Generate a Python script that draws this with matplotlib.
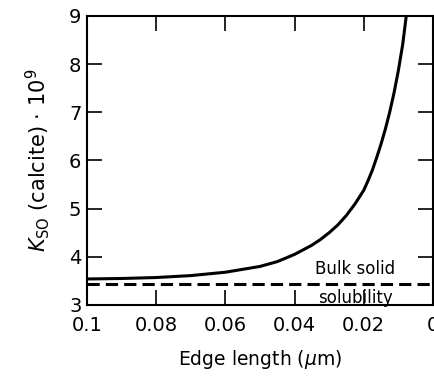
import matplotlib
matplotlib.use('Agg')
import matplotlib.pyplot as plt

# curve: edge length (um) vs Kso * 1e9
edge_length = [0.1, 0.09, 0.08, 0.07, 0.06, 0.05, 0.045, 0.04, 0.035,
               0.0325, 0.03, 0.0275, 0.025, 0.0225, 0.02, 0.01875,
               0.0175, 0.01625, 0.015, 0.01375, 0.0125, 0.01125, 0.01,
               0.00875, 0.0077]
kso = [3.54, 3.55, 3.57, 3.61, 3.68, 3.8, 3.9, 4.05, 4.24,
       4.36, 4.5, 4.66, 4.86, 5.1, 5.38, 5.58,
       5.8, 6.06, 6.34, 6.65, 7.0, 7.4, 7.86,
       8.4, 9.0]
bulk_kso = 3.44

xticks = [0.1, 0.08, 0.06, 0.04, 0.02, 0]
xticklabels = ['0.1', '0.08', '0.06', '0.04', '0.02', '0']
yticks = [3, 4, 5, 6, 7, 8, 9]

fig = plt.figure(figsize=(4.34, 3.77), dpi=100)
ax = fig.add_axes([0.2005, 0.191, 0.797, 0.767])

ax.plot(edge_length, kso, color='black', lw=2.2, solid_capstyle='butt')
ax.plot([0.1, 0], [bulk_kso, bulk_kso], color='black', lw=2.2,
        dashes=(4, 2))

ax.set_xlim(0.1, 0)
ax.set_ylim(3, 9)
ax.set_xticks(xticks)
ax.set_xticklabels(xticklabels)
ax.set_yticks(yticks)

ax.tick_params(direction='in', length=11, width=1.2, labelsize=14,
               top=True, right=True, colors='black')
ax.tick_params(axis='x', pad=8)
ax.tick_params(axis='y', pad=4)
for s in ax.spines.values():
    s.set_linewidth(1.5)

ax.text(0.0225, 3.55, 'Bulk solid', ha='center', va='bottom', fontsize=12)
ax.text(0.0225, 3.34, 'solubility', ha='center', va='top', fontsize=12)

ax.set_xlabel(r'Edge length ($\mu$m)', fontsize=13.5, labelpad=9)
ax.set_ylabel(r'$K_{\rm SO}$ (calcite) $\cdot$ 10$^9$', fontsize=15,
              labelpad=12)

fig.savefig('out.png', dpi=100)
